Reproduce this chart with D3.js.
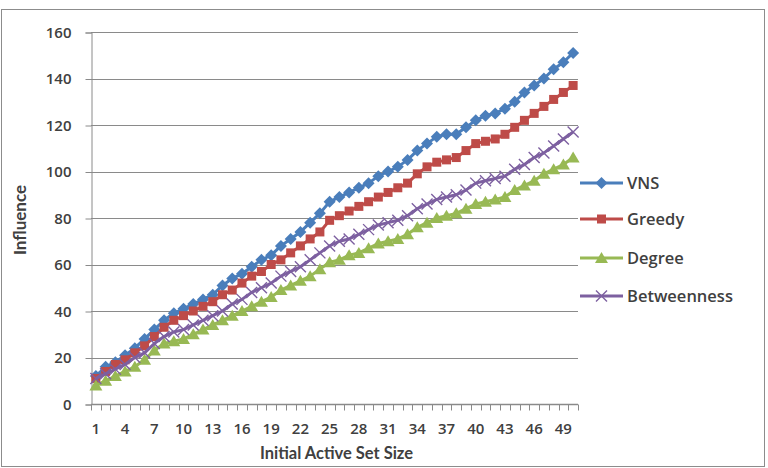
<!DOCTYPE html>
<html>
<head>
<meta charset="utf-8">
<script src="https://cdn.jsdelivr.net/npm/d3@7"></script>
<style>
  body { margin: 0; background: #fff; }
  text { font-family: "Open Sans", "Liberation Sans", sans-serif; fill: #404040; }
</style>
</head>
<body>
<svg id="chart"></svg>
<script>
const sizes = d3.range(1, 51);
const vns = [12, 16, 18, 21, 24, 28, 32, 36, 39, 41, 43, 45, 47, 51, 54, 56, 59, 62, 64, 68,
  71, 74, 78, 82, 87, 89, 91, 93, 95, 98, 100, 102, 105, 109, 112, 115, 116, 116, 119, 122,
  124, 125, 127, 130, 134, 137, 140, 144, 147, 151];
const greedy = [11, 14, 17, 19, 22, 25, 29, 33, 36, 38, 40, 42, 44, 47, 49, 52, 55, 57, 60, 62,
  65, 68, 71, 74, 79, 81, 83, 85, 87, 89, 91, 93, 95, 99, 102, 104, 105, 106, 109, 112,
  113, 114, 116, 119, 122, 125, 128, 131, 134, 137];
const degree = [8, 10, 12, 14, 16, 19, 23, 26, 27, 28, 30, 32, 34, 36, 38, 40, 42, 44, 46, 49,
  51, 53, 55, 58, 61, 62, 64, 65, 67, 69, 70, 71, 73, 76, 78, 80, 81, 82, 84, 86,
  87, 88, 89, 92, 94, 96, 99, 101, 103, 106];
const betweenness = [11, 13, 15, 17, 20, 22, 26, 29, 31, 32, 34, 36, 38, 40, 43, 45, 48, 50, 52, 55,
  57, 59, 62, 65, 68, 70, 71, 73, 75, 77, 78, 79, 81, 84, 86, 88, 89, 90, 92, 95,
  96, 97, 98, 101, 103, 106, 108, 111, 114, 117];
const yTicks = [0, 20, 40, 60, 80, 100, 120, 140, 160];
const xLabels = d3.range(1, 51, 3);

const series = [
  { name: 'VNS', values: vns, color: '#4a7ebb', marker: 'diamond' },
  { name: 'Greedy', values: greedy, color: '#be4b48', marker: 'square' },
  { name: 'Degree', values: degree, color: '#98b954', marker: 'triangle' },
  { name: 'Betweenness', values: betweenness, color: '#7d60a0', marker: 'x' }
];

const width = 768, height = 468;
const plot = { left: 91, right: 578, top: 32, bottom: 404 };

const svg = d3.select('#chart').attr('width', width).attr('height', height);

// chart border
svg.append('rect')
  .attr('x', 1.5).attr('y', 9.5).attr('width', 763).attr('height', 457)
  .attr('fill', '#fff').attr('stroke', '#8c8c8c').attr('stroke-width', 1);

const x = d3.scaleBand().domain(sizes).range([plot.left, plot.right]);
const y = d3.scaleLinear().domain([0, 160]).range([plot.bottom, plot.top]);
const cx = d => x(d) + x.bandwidth() / 2;

// gridlines
svg.append('g')
  .selectAll('line')
  .data(yTicks.filter(d => d > 0))
  .join('line')
  .attr('x1', plot.left).attr('x2', plot.right)
  .attr('y1', d => Math.round(y(d)) + 0.5).attr('y2', d => Math.round(y(d)) + 0.5)
  .attr('stroke', '#8a8a8a').attr('stroke-width', 1);

// y axis
const yAxis = svg.append('g')
  .attr('transform', `translate(${plot.left + 0.5},0.5)`)
  .call(d3.axisLeft(y).tickValues(yTicks).tickSize(6).tickPadding(14));
yAxis.select('.domain').attr('stroke', '#8a8a8a');
yAxis.selectAll('.tick line').attr('stroke', '#8a8a8a');
yAxis.selectAll('.tick text').style('font-size', '15px').style('font-weight', '600').attr('fill', '#404040');

// x axis: tick marks on category boundaries
const xg = svg.append('g').attr('transform', `translate(0,${Math.round(plot.bottom) + 0.5})`);
xg.append('line').attr('x1', plot.left).attr('x2', plot.right).attr('stroke', '#8a8a8a').attr('stroke-width', 1.5);
xg.selectAll('line.tk')
  .data(sizes.concat([51]))
  .join('line').attr('class', 'tk')
  .attr('x1', d => Math.round(d <= 50 ? x(d) : plot.right) + 0.5)
  .attr('x2', d => Math.round(d <= 50 ? x(d) : plot.right) + 0.5)
  .attr('y1', 0).attr('y2', 6)
  .attr('stroke', '#8a8a8a');
xg.selectAll('text')
  .data(xLabels)
  .join('text')
  .attr('x', d => cx(d)).attr('y', 29)
  .attr('text-anchor', 'middle')
  .style('font-size', '15px').style('font-weight', '600')
  .text(d => d);

// axis titles
svg.append('text')
  .attr('x', (plot.left + plot.right) / 2 + 2).attr('y', 459)
  .attr('text-anchor', 'middle')
  .style('font-size', '16.5px').style('font-weight', '700')
  .style('font-family', 'Lato, "Open Sans", sans-serif')
  .attr('fill', '#333')
  .text('Initial Active Set Size');

svg.append('text')
  .attr('transform', `translate(26,${(plot.top + plot.bottom) / 2 + 2}) rotate(-90)`)
  .attr('text-anchor', 'middle')
  .style('font-size', '17px').style('font-weight', '700')
  .style('font-family', 'Lato, "Open Sans", sans-serif')
  .attr('fill', '#333')
  .text('Influence');

function drawMarker(sel, type, color) {
  if (type === 'diamond') {
    sel.append('path').attr('d', 'M0,-6L6,0L0,6L-6,0Z').attr('fill', color);
  } else if (type === 'square') {
    sel.append('rect').attr('x', -4.5).attr('y', -4.5).attr('width', 9).attr('height', 9).attr('fill', color);
  } else if (type === 'triangle') {
    sel.append('path').attr('d', 'M0,-6L6.5,5L-6.5,5Z').attr('fill', color);
  } else {
    sel.append('path').attr('d', 'M-5.5,-5.5L5.5,5.5M-5.5,5.5L5.5,-5.5').attr('stroke', color).attr('stroke-width', 1.4).attr('fill', 'none');
  }
}

const line = d3.line().x((d, i) => cx(sizes[i])).y(d => y(d));

series.forEach(s => {
  const g = svg.append('g');
  g.append('path')
    .datum(s.values)
    .attr('d', line)
    .attr('fill', 'none')
    .attr('stroke', s.color)
    .attr('stroke-width', 3)
    .attr('stroke-linejoin', 'round');
  g.selectAll('g.m')
    .data(s.values)
    .join('g').attr('class', 'm')
    .attr('transform', (d, i) => `translate(${cx(sizes[i])},${y(d)})`)
    .each(function () { drawMarker(d3.select(this), s.marker, s.color); });
});

// legend
const legendY = [183, 219, 258, 296];
const legend = svg.append('g');
series.forEach((s, i) => {
  const lg = legend.append('g').attr('transform', `translate(580,${legendY[i]})`);
  lg.append('line').attr('x1', 0).attr('x2', 43).attr('stroke', s.color).attr('stroke-width', 3);
  drawMarker(lg.append('g').attr('transform', 'translate(21.5,0)'), s.marker, s.color);
  lg.append('text').attr('x', 47).attr('y', 6)
    .style('font-size', '16.5px').style('font-weight', '600')
    .text(s.name);
});
</script>
</body>
</html>
